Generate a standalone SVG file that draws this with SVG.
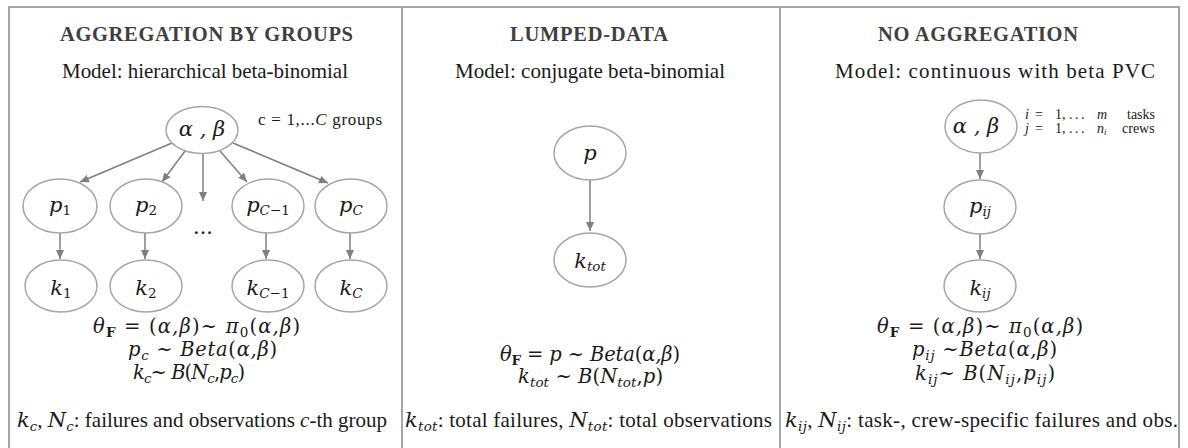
<svg xmlns="http://www.w3.org/2000/svg" width="1188" height="448" viewBox="0 0 1188 448">
<style>
.frame{fill:none;stroke:#a6a6a6;stroke-width:2}
.ell{fill:#fff;stroke:#a6a6a6;stroke-width:1.5}
.arr{stroke:#7f7f7f;stroke-width:1.5;fill:none;marker-end:url(#ah)}
.title{font-family:"Liberation Serif","Times New Roman",serif;font-weight:bold;font-size:20.5px;fill:#404040}
.model{font-family:"Liberation Serif","Times New Roman",serif;font-size:21px;fill:#1a1a1a}
.math{font-family:"DejaVu Serif",serif;font-style:italic;font-size:19.5px;fill:#1a1a1a}
.node{font-family:"DejaVu Serif",serif;font-style:italic;font-size:21px;fill:#1a1a1a;text-anchor:middle}
.note{font-family:"Liberation Serif","Times New Roman",serif;font-size:21px;fill:#1a1a1a}
.side{font-family:"Liberation Serif","Times New Roman",serif;fill:#1a1a1a}
.mi{font-family:"DejaVu Serif",serif;font-style:italic}
.up{font-style:normal}
.it{font-style:italic}
.sub{font-size:13.5px}
.bf{font-weight:bold;font-style:normal}
</style>
<defs>
<marker id="ah" markerWidth="9" markerHeight="8" refX="9" refY="4" orient="auto" markerUnits="userSpaceOnUse"><path d="M0,0 L9,4 L0,8 z" fill="#7f7f7f"/></marker>
</defs>
<g id="frame">
<path class="frame" d="M9,448 V7 H1179 V448"/>
<path class="frame" d="M402,7 V448 M780,7 V448"/>
</g>
<g id="headers">
<text class="title" x="60" y="41" textLength="293">AGGREGATION BY GROUPS</text>
<text class="title" x="510" y="41" textLength="158">LUMPED-DATA</text>
<text class="title" x="878" y="41" textLength="200">NO AGGREGATION</text>
<text class="model" x="62" y="78" textLength="286">Model: hierarchical beta-binomial</text>
<text class="model" x="455" y="78" textLength="270">Model: conjugate beta-binomial</text>
<text class="model" x="835" y="78" textLength="320">Model: continuous with beta PVC</text>
<text class="side" x="258" y="125" font-size="17" textLength="124">c = 1,...<tspan class="it">C</tspan> groups</text>
<text class="side" x="1025" y="118.5" font-size="14"><tspan class="it">i</tspan><tspan x="1035">=</tspan><tspan x="1055">1,</tspan><tspan x="1069" letter-spacing="2.5">...</tspan><tspan x="1097" class="it">m</tspan><tspan x="1127">tasks</tspan></text>
<text class="side" x="1025" y="132.5" font-size="14"><tspan class="it">j</tspan><tspan x="1035">=</tspan><tspan x="1055">1,</tspan><tspan x="1069" letter-spacing="2.5">...</tspan><tspan x="1097" class="it">n</tspan><tspan class="it" font-size="9" dy="2">i</tspan><tspan x="1122" dy="-2">crews</tspan></text>
</g>
<g id="connectors">
<line class="arr" x1="172" y1="143" x2="80" y2="182"/>
<line class="arr" x1="185" y1="151" x2="162" y2="182"/>
<line class="arr" x1="203" y1="153" x2="203" y2="201"/>
<line class="arr" x1="220" y1="151" x2="247" y2="182"/>
<line class="arr" x1="233" y1="143" x2="328" y2="183"/>
<line class="arr" x1="60" y1="233" x2="60" y2="259"/>
<line class="arr" x1="145" y1="233" x2="145" y2="259"/>
<line class="arr" x1="266" y1="233" x2="266" y2="259"/>
<line class="arr" x1="350" y1="233" x2="350" y2="259"/>
<line class="arr" x1="590" y1="180" x2="590" y2="231"/>
<line class="arr" x1="980" y1="153" x2="980" y2="179"/>
<line class="arr" x1="980" y1="233" x2="980" y2="259"/>
</g>
<g id="n-ab1"><ellipse class="ell" cx="202" cy="130" rx="36" ry="23.5"/><text class="node" x="202" y="136">α , β</text></g>
<g id="n-p1"><ellipse class="ell" cx="60" cy="206" rx="37" ry="27"/><text class="node" x="60" y="212">p<tspan class="sub up" dy="3">1</tspan></text></g>
<g id="n-p2"><ellipse class="ell" cx="146" cy="206" rx="36" ry="27"/><text class="node" x="146" y="212">p<tspan class="sub up" dy="3">2</tspan></text></g>
<g id="n-dots"><text class="node" x="203" y="240" font-size="13" style="font-style:normal">···</text></g>
<g id="n-pC1"><ellipse class="ell" cx="268" cy="206" rx="36" ry="27"/><text class="node" x="268" y="212">p<tspan class="sub" dy="3">C<tspan class="up">−1</tspan></tspan></text></g>
<g id="n-pC"><ellipse class="ell" cx="351" cy="206" rx="36" ry="27"/><text class="node" x="351" y="212">p<tspan class="sub" dy="3">C</tspan></text></g>
<g id="n-k1"><ellipse class="ell" cx="61" cy="286" rx="36" ry="26"/><text class="node" x="61" y="295">k<tspan class="sub up" dy="3">1</tspan></text></g>
<g id="n-k2"><ellipse class="ell" cx="146" cy="286" rx="36" ry="26"/><text class="node" x="146" y="295">k<tspan class="sub up" dy="3">2</tspan></text></g>
<g id="n-kC1"><ellipse class="ell" cx="268" cy="286" rx="36" ry="26"/><text class="node" x="268" y="295">k<tspan class="sub" dy="3">C<tspan class="up">−1</tspan></tspan></text></g>
<g id="n-kC"><ellipse class="ell" cx="351" cy="286" rx="36" ry="26"/><text class="node" x="351" y="295">k<tspan class="sub" dy="3">C</tspan></text></g>
<g id="n-p"><ellipse class="ell" cx="590" cy="153" rx="36" ry="27"/><text class="node" x="590" y="160">p</text></g>
<g id="n-ktot"><ellipse class="ell" cx="590" cy="260" rx="36" ry="27"/><text class="node" x="590" y="268">k<tspan class="sub" dy="3">tot</tspan></text></g>
<g id="n-ab3"><ellipse class="ell" cx="981" cy="126.5" rx="36" ry="26.5"/><text class="node" x="976" y="133">α , β</text></g>
<g id="n-pij"><ellipse class="ell" cx="980" cy="207" rx="36" ry="27"/><text class="node" x="980" y="213">p<tspan class="sub" dy="3">ij</tspan></text></g>
<g id="n-kij"><ellipse class="ell" cx="980" cy="286" rx="36" ry="26"/><text class="node" x="980" y="295">k<tspan class="sub" dy="3">ij</tspan></text></g>
<g id="formulas">
<text class="math" x="93" y="333" textLength="207">θ<tspan class="sub bf" dy="4">F</tspan><tspan class="up" dy="-4"> = (</tspan>α,β<tspan class="up">)~ </tspan>π<tspan class="sub up" dy="4">0</tspan><tspan class="up" dy="-4">(</tspan>α,β<tspan class="up">)</tspan></text>
<text class="math" x="128" y="356" textLength="149">p<tspan class="sub" dy="4">c</tspan><tspan class="up" dy="-4"> ~ </tspan>Beta<tspan class="up">(</tspan>α,β<tspan class="up">)</tspan></text>
<text class="math" x="133" y="379" textLength="112">k<tspan class="sub" dy="4">c</tspan><tspan class="up" dy="-4">~ </tspan>B<tspan class="up">(</tspan>N<tspan class="sub" dy="4">c</tspan><tspan class="up" dy="-4">,</tspan>p<tspan class="sub" dy="4">c</tspan><tspan class="up" dy="-4">)</tspan></text>
<text class="math" x="500" y="361" textLength="180">θ<tspan class="sub bf" dy="4">F</tspan><tspan class="up" dy="-4"> = </tspan>p<tspan class="up"> ~ </tspan>Beta<tspan class="up">(</tspan>α,β<tspan class="up">)</tspan></text>
<text class="math" x="518" y="383" textLength="145">k<tspan class="sub" dy="4">tot</tspan><tspan class="up" dy="-4"> ~ </tspan>B<tspan class="up">(</tspan>N<tspan class="sub" dy="4">tot</tspan><tspan class="up" dy="-4">,</tspan>p<tspan class="up">)</tspan></text>
<text class="math" x="877" y="333" textLength="206">θ<tspan class="sub bf" dy="4">F</tspan><tspan class="up" dy="-4"> = (</tspan>α,β<tspan class="up">)~ </tspan>π<tspan class="sub up" dy="4">0</tspan><tspan class="up" dy="-4">(</tspan>α,β<tspan class="up">)</tspan></text>
<text class="math" x="912" y="356" textLength="145">p<tspan class="sub" dy="4">ij</tspan><tspan class="up" dy="-4"> ~</tspan>Beta<tspan class="up">(</tspan>α,β<tspan class="up">)</tspan></text>
<text class="math" x="915" y="380" textLength="140">k<tspan class="sub" dy="4">ij</tspan><tspan class="up" dy="-4">~ </tspan>B<tspan class="up">(</tspan>N<tspan class="sub" dy="4">ij</tspan><tspan class="up" dy="-4">,</tspan>p<tspan class="sub" dy="4">ij</tspan><tspan class="up" dy="-4">)</tspan></text>
</g>
<g id="notes">
<text class="note" x="17" y="427" textLength="370"><tspan class="mi">k</tspan><tspan class="mi sub" dy="4">c</tspan><tspan dy="-4">, </tspan><tspan class="mi">N</tspan><tspan class="mi sub" dy="4">c</tspan><tspan dy="-4">: failures and observations </tspan><tspan class="it">c</tspan>-th group</text>
<text class="note" x="405" y="427" textLength="367"><tspan class="mi">k</tspan><tspan class="mi sub" dy="4">tot</tspan><tspan dy="-4">: total failures, </tspan><tspan class="mi">N</tspan><tspan class="mi sub" dy="4">tot</tspan><tspan dy="-4">: total observations</tspan></text>
<text class="note" x="785" y="427" textLength="393"><tspan class="mi">k</tspan><tspan class="mi sub" dy="4">ij</tspan><tspan dy="-4">, </tspan><tspan class="mi">N</tspan><tspan class="mi sub" dy="4">ij</tspan><tspan dy="-4">: task-, crew-specific failures and obs.</tspan></text>
</g>
</svg>
